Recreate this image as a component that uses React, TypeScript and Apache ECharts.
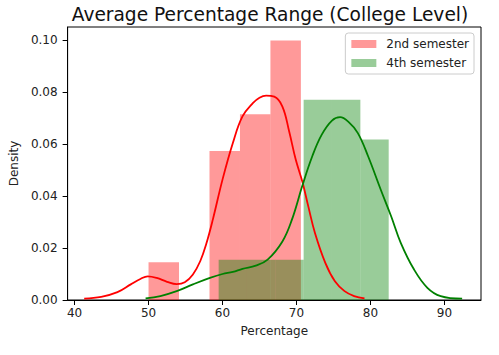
import React, { useEffect, useRef } from 'react';
import * as echarts from 'echarts';

const FONT = 'DejaVu Sans';

const xTicks = [40, 50, 60, 70, 80, 90];
const yTicks = [0, 0.02, 0.04, 0.06, 0.08, 0.1];

const seriesNames = ['2nd semester', '4th semester'];

// histogram bins (edges) and densities
const redEdges = [50.0, 54.12, 58.24, 62.36, 66.48, 70.6];
const redDensity = [0.0145, 0, 0.0573, 0.0714, 0.0998];
const greenEdges = [59.48, 63.31, 67.14, 70.97, 74.8, 78.64, 82.47];
const greenDensity = [0.0155, 0.0155, 0.0155, 0.077, 0.077, 0.0617];

// KDE curves
const redKdeX = [41.3, 43.6, 45.8, 47.6, 48.9, 49.9, 51.1, 52.5, 53.8, 54.9, 56.0, 57.0, 57.8, 58.7, 60.0, 61.4, 62.7, 64.1, 65.0, 65.9, 67.0, 68.1, 69.0, 69.9, 70.8, 71.6, 72.5, 73.9, 75.2, 76.5, 77.8, 79.2];
const redKdeY = [0.0005, 0.0012, 0.003, 0.006, 0.0081, 0.0091, 0.0085, 0.007, 0.0061, 0.0068, 0.0098, 0.015, 0.0215, 0.031, 0.0463, 0.0604, 0.0706, 0.0757, 0.0778, 0.0786, 0.0782, 0.0744, 0.065, 0.054, 0.0455, 0.036, 0.0258, 0.0143, 0.0072, 0.0034, 0.0015, 0.0006];
const greenKdeX = [49.6, 51.6, 53.8, 56.0, 58.3, 60.0, 61.4, 62.7, 64.5, 66.1, 68.1, 69.4, 70.8, 72.1, 73.4, 74.8, 75.9, 77.0, 78.3, 79.7, 81.4, 82.8, 84.1, 85.9, 87.7, 89.5, 92.4];
const greenKdeY = [0.0006, 0.0015, 0.0034, 0.006, 0.0085, 0.01, 0.0108, 0.012, 0.0132, 0.0155, 0.0225, 0.031, 0.044, 0.055, 0.0635, 0.069, 0.0703, 0.0686, 0.0642, 0.0552, 0.0424, 0.0322, 0.022, 0.0117, 0.0047, 0.0015, 0.0005];

const RED_FILL = 'rgba(255,0,0,0.4)';
const GREEN_FILL = 'rgba(0,128,0,0.4)';

function histData(edges: number[], dens: number[]) {
  return dens.map((d, i) => [edges[i], edges[i + 1], d]);
}

function histSeries(name: string, edges: number[], dens: number[], fill: string) {
  return {
    type: 'custom',
    name,
    data: histData(edges, dens),
    encode: { x: [0, 1], y: 2 },
    itemStyle: { color: fill },
    renderItem: (params: any, api: any) => {
      const x0 = api.value(0);
      const x1 = api.value(1);
      const y = api.value(2);
      if (!(y > 0)) return null;
      const p0 = api.coord([x0, y]);
      const p1 = api.coord([x1, 0]);
      return {
        type: 'rect',
        shape: { x: p0[0], y: p0[1], width: p1[0] - p0[0], height: p1[1] - p0[1] },
        style: { fill },
      };
    },
    z: 1,
  };
}

function kdeSeries(name: string, xs: number[], ys: number[], color: string) {
  return {
    type: 'line',
    name,
    data: xs.map((x, i) => [x, ys[i]]),
    smooth: 0.4,
    showSymbol: false,
    symbol: 'none',
    lineStyle: { color, width: 1.8 },
    itemStyle: { color },
    z: 3,
  };
}

export default function App() {
  const ref = useRef<HTMLDivElement>(null);
  useEffect(() => {
    if (!ref.current) return;
    const chart = echarts.init(ref.current, undefined, { renderer: 'svg' });
    const labelStyle = { fontFamily: FONT, fontSize: 12, color: '#222' };
    chart.setOption({
      animation: false,
      backgroundColor: '#fff',
      grid: {
        left: 63,
        right: 18,
        top: 27,
        bottom: 55,
        show: true,
        borderColor: '#000',
        borderWidth: 1,
        containLabel: false,
      },
      graphic: [
        {
          type: 'text',
          x: 270,
          y: 14,
          style: {
            text: 'Average Percentage Range (College Level)',
            fontFamily: FONT,
            fontSize: 18.6,
            fill: '#111',
            align: 'center',
            verticalAlign: 'middle',
          },
        },
      ],
      legend: {
        data: seriesNames,
        orient: 'vertical',
        right: 25,
        top: 33,
        itemWidth: 25,
        itemHeight: 8,
        itemGap: 5,
        icon: 'rect',
        padding: [4, 5, 4, 6],
        borderColor: '#ccc',
        borderWidth: 1,
        borderRadius: 3,
        backgroundColor: 'rgba(255,255,255,0.8)',
        selectedMode: false,
        textStyle: { ...labelStyle, lineHeight: 14, padding: [0, 0, 0, 5] },
      },
      xAxis: {
        type: 'value',
        min: 39.06,
        max: 94.95,
        splitLine: { show: false },
        axisLine: { show: true, lineStyle: { color: '#000', width: 1 } },
        axisTick: { show: true, length: 5, lineStyle: { color: '#000' }, customValues: xTicks },
        axisLabel: { ...labelStyle, margin: 7, customValues: xTicks },
        name: 'Percentage',
        nameLocation: 'middle',
        nameGap: 25,
        nameTextStyle: labelStyle,
      },
      yAxis: {
        type: 'value',
        min: 0,
        max: 0.105,
        splitLine: { show: false },
        axisLine: { show: true, lineStyle: { color: '#000', width: 1 } },
        axisTick: { show: true, length: 5, lineStyle: { color: '#000' }, customValues: yTicks },
        axisLabel: {
          ...labelStyle,
          margin: 10,
          customValues: yTicks,
          formatter: (v: number) => v.toFixed(2),
        },
        name: 'Density',
        nameLocation: 'middle',
        nameGap: 45,
        nameTextStyle: labelStyle,
      },
      series: [
        histSeries(seriesNames[0], redEdges, redDensity, RED_FILL),
        histSeries(seriesNames[1], greenEdges, greenDensity, GREEN_FILL),
        kdeSeries('kde 2nd', redKdeX, redKdeY, '#ff0000'),
        kdeSeries('kde 4th', greenKdeX, greenKdeY, '#008000'),
      ],
    });
    return () => chart.dispose();
  }, []);
  return (
    <div
      ref={ref}
      style={{ position: 'absolute', left: 0, top: 0, width: 499, height: 355 }}
    />
  );
}
